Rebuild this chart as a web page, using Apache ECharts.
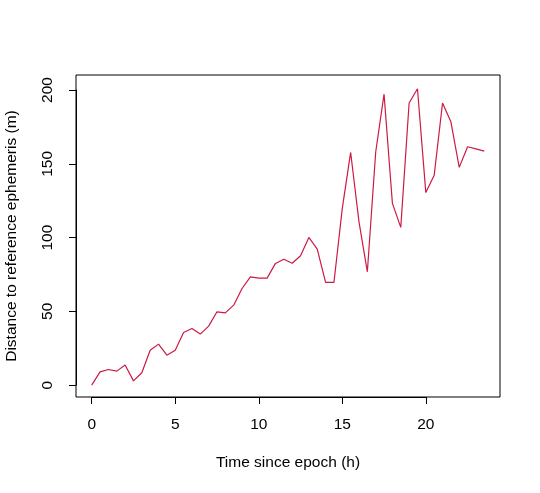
<!DOCTYPE html>
<html>
<head>
<meta charset="utf-8">
<script src="https://cdn.jsdelivr.net/npm/echarts@6/dist/echarts.min.js"></script>
<style>html,body{margin:0;padding:0;background:#fff}#c{width:540px;height:493px}</style>
</head>
<body>
<div id="c"></div>
<script>
var timeHours = [0,0.5,1,1.5,2,2.5,3,3.5,4,4.5,5,5.5,6,6.5,7,7.5,8,8.5,9,9.5,10,10.5,11,11.5,12,12.5,13,13.5,14,14.5,15,15.5,16,16.5,17,17.5,18,18.5,19,19.5,20,20.5,21,21.5,22,22.5,23,23.5];
var distanceM = [0,9,10.6,9.5,13.6,2.9,8.4,23.7,27.8,20.3,23.7,35.7,38.4,34.6,40,49.7,49,54.2,65.5,73.4,72.5,72.5,82.5,85.3,82.6,87.7,100.1,92.2,69.6,69.6,119.8,157.7,110.7,76.8,158,197.2,123.2,106.9,191.2,200.9,130.5,142.2,191.2,178.5,147.6,161.6,160.1,158.6];
var xTickMin = 0, xTickMax = 20, xTickStep = 5;
var yTickMin = 0, yTickMax = 200, yTickStep = 50;
var xTitle = 'Time since epoch (h)';
var yTitle = 'Distance to reference ephemeris (m)';

var W = 540, H = 493;
var plot = {left:76, right:40, top:75, bottom:96};
var xMin = -0.94, xMax = 24.44, yMin = -8.04, yMax = 210.2;
var pw = W - plot.left - plot.right, ph = H - plot.top - plot.bottom;
var tx0 = plot.left + (xTickMin - xMin) / (xMax - xMin) * pw;
var tx1 = plot.left + (xTickMax - xMin) / (xMax - xMin) * pw;
var ty0 = plot.top + (yMax - yTickMax) / (yMax - yMin) * ph;
var ty1 = plot.top + (yMax - yTickMin) / (yMax - yMin) * ph;

var chart = echarts.init(document.getElementById('c'), null, {renderer:'canvas'});
var font = 'Liberation Sans, Arial, Helvetica, sans-serif';
var txt = {color:'#000', fontSize:15.5, fontFamily:font};
var pts = timeHours.map(function(t,i){return [t, distanceM[i]];});
chart.setOption({
  animation:false,
  backgroundColor:'#fff',
  grid:[
    {left:plot.left,right:plot.right,top:plot.top,bottom:plot.bottom,show:true,borderColor:'#000',borderWidth:1,backgroundColor:'transparent',containLabel:false,outerBoundsMode:'none'},
    {left:tx0,right:W-tx1,top:ty0,bottom:H-ty1,show:false,containLabel:false,outerBoundsMode:'none'}
  ],
  xAxis:[
    {gridIndex:0,type:'value',min:xMin,max:xMax,axisLine:{show:false,onZero:false},axisTick:{show:false},axisLabel:{show:false},splitLine:{show:false},
     name:xTitle,nameLocation:'middle',nameGap:58,nameTextStyle:txt},
    {gridIndex:1,type:'value',min:xTickMin,max:xTickMax,interval:xTickStep,position:'bottom',offset:(H-plot.bottom) - ty1,
     axisLine:{show:true,onZero:false,lineStyle:{color:'#000',width:1}},
     axisTick:{show:true,length:7,lineStyle:{color:'#000',width:1}},
     axisLabel:Object.assign({margin:20},txt),splitLine:{show:false}}
  ],
  yAxis:[
    {gridIndex:0,type:'value',min:yMin,max:yMax,axisLine:{show:false,onZero:false},axisTick:{show:false},axisLabel:{show:false},splitLine:{show:false},
     name:yTitle,nameLocation:'middle',nameGap:56,nameRotate:90,nameTextStyle:txt},
    {gridIndex:1,type:'value',min:yTickMin,max:yTickMax,interval:yTickStep,position:'left',offset:tx0 - plot.left,
     axisLine:{show:true,onZero:false,lineStyle:{color:'#000',width:1}},
     axisTick:{show:true,length:7,lineStyle:{color:'#000',width:1}},
     axisLabel:Object.assign({margin:20,rotate:90},txt),splitLine:{show:false}}
  ],
  series:[{
    type:'line', xAxisIndex:0, yAxisIndex:0, data:pts, showSymbol:false, symbol:'none',
    lineStyle:{color:'#cd1a45', width:1.2}
  }]
});
</script>
</body>
</html>
